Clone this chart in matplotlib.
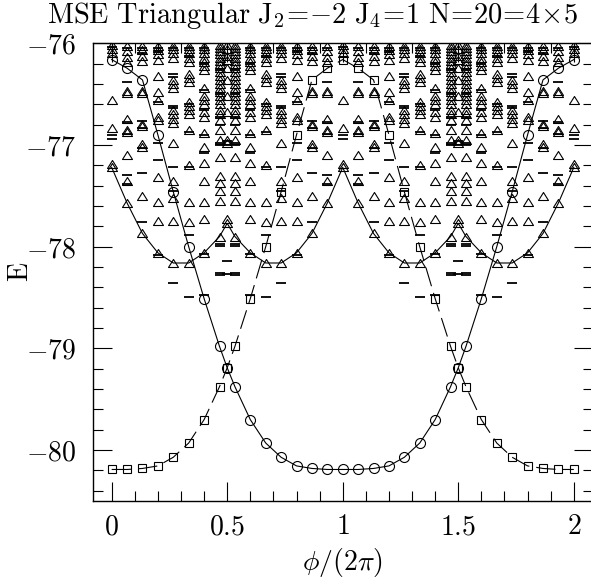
import matplotlib
matplotlib.use('Agg')
import matplotlib.pyplot as plt
from matplotlib.path import Path
from matplotlib.ticker import MultipleLocator

plt.rcParams['mathtext.fontset'] = 'cm'
plt.rcParams['font.family'] = ['DejaVu Serif']
plt.rcParams['lines.scale_dashes'] = False

# flux values phi/(2 pi) of the spectrum columns
phi = [0, 1/15, 2/15, 3/15, 4/15, 5/15, 6/15, 7/15, 0.5,
       8/15, 9/15, 10/15, 11/15, 12/15, 13/15, 14/15, 1,
       16/15, 17/15, 18/15, 19/15, 20/15, 21/15, 22/15, 1.5,
       23/15, 24/15, 25/15, 26/15, 27/15, 28/15, 29/15, 2]

# lowest levels followed by the curves
E_circ = [-76.16, -76.245, -76.36, -76.90, -77.46, -78.00, -78.51, -78.98, -79.19,
          -79.376, -79.70, -79.93, -80.07, -80.155, -80.18, -80.19, -80.19,
          -80.19, -80.18, -80.155, -80.07, -79.93, -79.70, -79.376, -79.19,
          -78.98, -78.51, -78.00, -77.46, -76.90, -76.36, -76.245, -76.16]
E_sq = [-80.19, -80.19, -80.18, -80.155, -80.07, -79.93, -79.70, -79.376, -79.19,
        -78.98, -78.51, -78.00, -77.46, -76.90, -76.36, -76.245, -76.16,
        -76.245, -76.36, -76.90, -77.46, -78.00, -78.51, -78.98, -79.19,
        -79.376, -79.70, -79.93, -80.07, -80.155, -80.18, -80.19, -80.19]
E_tri = [-77.22, -77.57, -77.87, -78.06, -78.16, -78.16, -78.06, -77.90, -77.77,
         -77.90, -78.06, -78.16, -78.16, -78.06, -77.87, -77.57, -77.22,
         -77.57, -77.87, -78.06, -78.16, -78.16, -78.06, -77.90, -77.77,
         -77.90, -78.06, -78.16, -78.16, -78.06, -77.87, -77.57, -77.22]

# other levels, one list per column (x = k/15 and x = 0.5)
tri_c0 = [-76.02, -76.06, -76.10, -76.555, -76.83, -77.19]
tri_c1 = [-76.03, -76.08, -76.13, -76.18, -76.47, -76.49, -76.74, -76.85, -76.87, -77.10, -77.35]
tri_c2 = [-76.03, -76.07, -76.12, -76.17, -76.47, -76.49, -76.79, -76.81, -76.99, -77.02, -77.50]
tri_c3 = [-76.03, -76.07, -76.11, -76.16, -76.32, -76.48, -76.56, -76.72, -76.75, -77.31, -77.56, -77.75]
tri_c4 = [-76.03, -76.06, -76.10, -76.14, -76.36, -76.40, -76.44, -76.66, -76.70, -76.74,
          -76.78, -76.98, -77.35, -77.52, -77.75]
tri_c5 = [-76.03, -76.06, -76.10, -76.14, -76.18, -76.30, -76.34, -76.38, -76.58, -76.62,
          -76.66, -76.70, -76.85, -77.20, -77.56, -77.76]
tri_c6 = [-76.03, -76.06, -76.10, -76.14, -76.18, -76.22, -76.26, -76.44, -76.52, -76.56,
          -76.60, -76.68, -76.72, -76.88, -77.02, -77.18, -77.35, -77.56, -77.73]
tri_c7 = [-76.02, -76.05, -76.08, -76.11, -76.14, -76.17, -76.20, -76.24, -76.28, -76.32,
          -76.36, -76.40, -76.44, -76.48, -76.52, -76.56, -76.60, -76.66, -76.70, -76.75,
          -76.85, -76.95, -77.12, -77.30, -77.37, -77.45, -77.55]
tri_ch = [-76.02, -76.06, -76.12, -76.16, -76.24, -76.36, -76.52, -76.68, -76.95, -76.98, -77.73]

dash_c0 = [-76.04, -76.90, -76.94]
dash_c1 = [-76.05, -76.38, -76.77, -76.89, -77.29, -77.38]
dash_c2 = [-76.05, -76.10, -76.76, -76.83, -77.03, -77.28, -77.76]
dash_c3 = [-76.05, -76.09, -76.58, -76.98, -77.15, -78.08]
dash_c4 = [-76.05, -76.30, -76.33, -76.62, -76.64, -77.22, -77.45, -78.36]
dash_c5 = [-76.05, -76.12, -76.60, -76.87, -77.22, -77.88, -78.49]
dash_c6 = [-76.05, -76.20, -76.46, -76.66, -76.90, -77.08, -78.07, -78.47]
dash_c7 = [-76.26, -76.50, -76.72, -76.80, -76.98, -77.00, -77.97, -77.99, -78.26, -78.28]
dash_ch = [-76.96, -77.00, -78.14, -78.27]

tri_cols = [tri_c0, tri_c1, tri_c2, tri_c3, tri_c4, tri_c5, tri_c6, tri_c7, tri_ch,
            tri_c7, tri_c6, tri_c5, tri_c4, tri_c3, tri_c2, tri_c1, tri_c0,
            tri_c1, tri_c2, tri_c3, tri_c4, tri_c5, tri_c6, tri_c7, tri_ch,
            tri_c7, tri_c6, tri_c5, tri_c4, tri_c3, tri_c2, tri_c1, tri_c0]
dash_cols = [dash_c0, dash_c1, dash_c2, dash_c3, dash_c4, dash_c5, dash_c6, dash_c7, dash_ch,
             dash_c7, dash_c6, dash_c5, dash_c4, dash_c3, dash_c2, dash_c1, dash_c0,
             dash_c1, dash_c2, dash_c3, dash_c4, dash_c5, dash_c6, dash_c7, dash_ch,
             dash_c7, dash_c6, dash_c5, dash_c4, dash_c3, dash_c2, dash_c1, dash_c0]

tri_marker = Path([(-1, -0.8), (1, -0.8), (0, 0.8), (-1, -0.8)],
                  [Path.MOVETO, Path.LINETO, Path.LINETO, Path.CLOSEPOLY])

fig = plt.figure(figsize=(5.91, 5.82), dpi=100)
ax = fig.add_axes([92.5/591, 81/582, 500/591, 457.7/582])

ax.plot(phi, E_tri, '-', color='k', lw=0.8, zorder=2)
ax.plot(phi, E_circ, '-', color='k', lw=0.8, zorder=2)
ax.plot(phi, E_sq, '-', color='k', lw=0.8, dashes=(14, 5), zorder=2)

tx, ty, dx, dy = [], [], [], []
for x, col in zip(phi, tri_cols):
    tx += [x]*len(col)
    ty += col
for x, col in zip(phi, dash_cols):
    dx += [x]*len(col)
    dy += col

ax.plot(dx, dy, ls='none', marker='_', ms=7.5, mew=1.3, color='k', zorder=3)
ax.plot(tx + phi, ty + E_tri, ls='none', marker=tri_marker, ms=7.2, mew=0.8,
        mfc='none', mec='k', zorder=3)
ax.plot(phi, E_circ, ls='none', marker='o', ms=7.2, mew=0.8, mfc='none', mec='k', zorder=3)
ax.plot(phi, E_sq, ls='none', marker='s', ms=5.4, mew=0.8, mfc='none', mec='k', zorder=3)

ax.set_xlim(-0.083, 2.081)
ax.set_ylim(-80.5, -76)
ax.xaxis.set_major_locator(MultipleLocator(0.5))
ax.xaxis.set_minor_locator(MultipleLocator(0.1))
ax.yaxis.set_major_locator(MultipleLocator(1))
ax.yaxis.set_minor_locator(MultipleLocator(0.2))
ax.set_xticks([0, 0.5, 1, 1.5, 2])
ax.set_xticklabels(['$0$', '$0.5$', '$1$', '$1.5$', '$2$'])
ax.set_yticks([-80, -79, -78, -77, -76])
ax.set_yticklabels(['$-80$', '$-79$', '$-78$', '$-77$', '$-76$'])
ax.tick_params(which='both', direction='in', top=True, right=True, width=0.8)
ax.tick_params(which='major', length=14, labelsize=20)
ax.tick_params(which='minor', length=7)
ax.tick_params(axis='x', pad=9)
ax.tick_params(axis='y', pad=12)
for s in ax.spines.values():
    s.set_linewidth(1.0)

ax.set_xlabel(r'$\phi/(2\pi)$', fontsize=20, labelpad=4)
fig.text(20/591, 1 - 272/582, r'$\mathrm{E}$', rotation=90, fontsize=20,
         ha='center', va='center')
fig.text(0.529, 0.961,
         r'$\mathrm{MSE\ Triangular\ J_2\!=\!{-}2\ J_4\!=\!1\ N\!=\!20\!=\!4\!\times\!5}$',
         ha='center', va='baseline', fontsize=20.5)

fig.savefig('out.png', dpi=100)
